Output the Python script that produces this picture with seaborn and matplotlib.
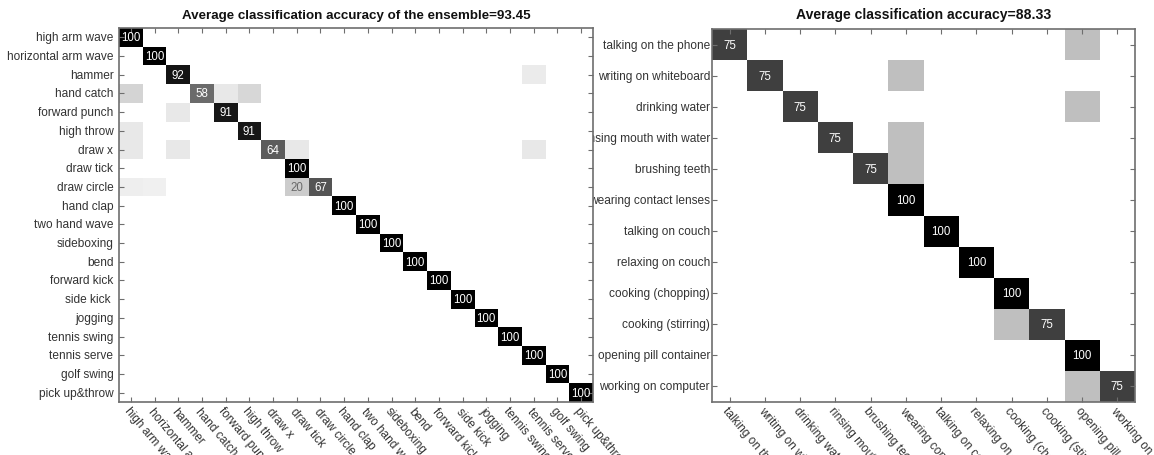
import numpy as np
import matplotlib
matplotlib.use("Agg")
import matplotlib.pyplot as plt
import seaborn as sns

# ---- data -------------------------------------------------------------
left_title = "Average classification accuracy of the ensemble=93.45"
left_classes = [
    "high arm wave", "horizontal arm wave", "hammer", "hand catch",
    "forward punch", "high throw", "draw x", "draw tick", "draw circle",
    "hand clap", "two hand wave", "sideboxing", "bend", "forward kick",
    "side kick ", "jogging", "tennis swing", "tennis serve", "golf swing",
    "pick up&throw",
]
left_diag = [100, 100, 92, 58, 91, 91, 64, 100, 67, 100,
             100, 100, 100, 100, 100, 100, 100, 100, 100, 100]
# (row, column, percent) for misclassified samples
left_off = [
    (2, 17, 8),
    (3, 0, 17), (3, 4, 9), (3, 5, 16),
    (4, 2, 9),
    (5, 0, 9),
    (6, 0, 9), (6, 2, 9), (6, 7, 9), (6, 17, 9),
    (8, 0, 7), (8, 1, 6), (8, 7, 20),
]
left_labeled_off = [(8, 7)]

right_title = "Average classification accuracy=88.33"
right_classes = [
    "talking on the phone", "writing on whiteboard", "drinking water",
    "rinsing mouth with water", "brushing teeth", "wearing contact lenses",
    "talking on couch", "relaxing on couch", "cooking (chopping)",
    "cooking (stirring)", "opening pill container", "working on computer",
]
right_diag = [75, 75, 75, 75, 75, 100, 100, 100, 100, 75, 100, 75]
right_off = [
    (0, 10, 25), (1, 5, 25), (2, 10, 25), (3, 5, 25), (4, 5, 25),
    (9, 8, 25), (11, 10, 25),
]
right_labeled_off = []


def build(diag, off, labeled_off):
    n = len(diag)
    m = np.zeros((n, n))
    m[np.arange(n), np.arange(n)] = diag
    for r, c, v in off:
        m[r, c] = v
    annot = np.full((n, n), "", dtype=object)
    for i in range(n):
        annot[i, i] = f"{m[i, i]:g}"
    for r, c in labeled_off:
        annot[r, c] = f"{m[r, c]:g}"
    return m, annot


plt.rcParams["font.family"] = ["Liberation Sans", "DejaVu Sans"]

fig = plt.figure(figsize=(11.54, 4.56), dpi=100)
W, H = 1154, 456


def frac(x0, y0, x1, y1):
    return [x0 / W, 1 - y1 / H, (x1 - x0) / W, (y1 - y0) / H]


ax1 = fig.add_axes(frac(119, 29, 593, 403))
ax2 = fig.add_axes(frac(712, 30, 1135, 403))
# left panel sits above the right one so overflowing labels are hidden
ax1.set_zorder(2)
ax2.set_zorder(1)

spine_col = "#6e6e6e"
label_col = "#333333"

panels = [
    (ax1, left_classes, left_diag, left_off, left_labeled_off, left_title, 4, 9.6, 7),
    (ax2, right_classes, right_diag, right_off, right_labeled_off, right_title, 1.5, 10.1, 8),
]

for ax, classes, diag, off, lab, title, ypad, tsize, tpad in panels:
    m, annot = build(diag, off, lab)
    sns.heatmap(m, ax=ax, cmap="gray_r", vmin=0, vmax=100, cbar=False,
                annot=annot, fmt="", annot_kws={"fontsize": 8.3},
                xticklabels=classes, yticklabels=classes)
    for t in ax.texts:
        try:
            v = float(t.get_text())
        except ValueError:
            continue
        t.set_color("white" if v > 50 else "#6a6a6a")
    ax.set_facecolor("white")
    for s in ax.spines.values():
        s.set_visible(True)
        s.set_color(spine_col)
        s.set_linewidth(1.2)
    ax.tick_params(axis="both", direction="in", length=3.5, width=0.8,
                   color=spine_col, labelcolor=label_col, labelsize=8.6,
                   top=True, right=True, labeltop=False, labelright=False)
    ax.tick_params(axis="y", pad=ypad, labelrotation=0)
    ax.tick_params(axis="x", pad=2)
    for lbl in ax.get_xticklabels():
        lbl.set_rotation(-50)
        lbl.set_rotation_mode("anchor")
        lbl.set_ha("left")
        lbl.set_va("top")
    ax.set_title(title, fontsize=tsize, fontweight="bold", color="#111111", pad=tpad)

fig.savefig("out.png", dpi=100, facecolor="white")
